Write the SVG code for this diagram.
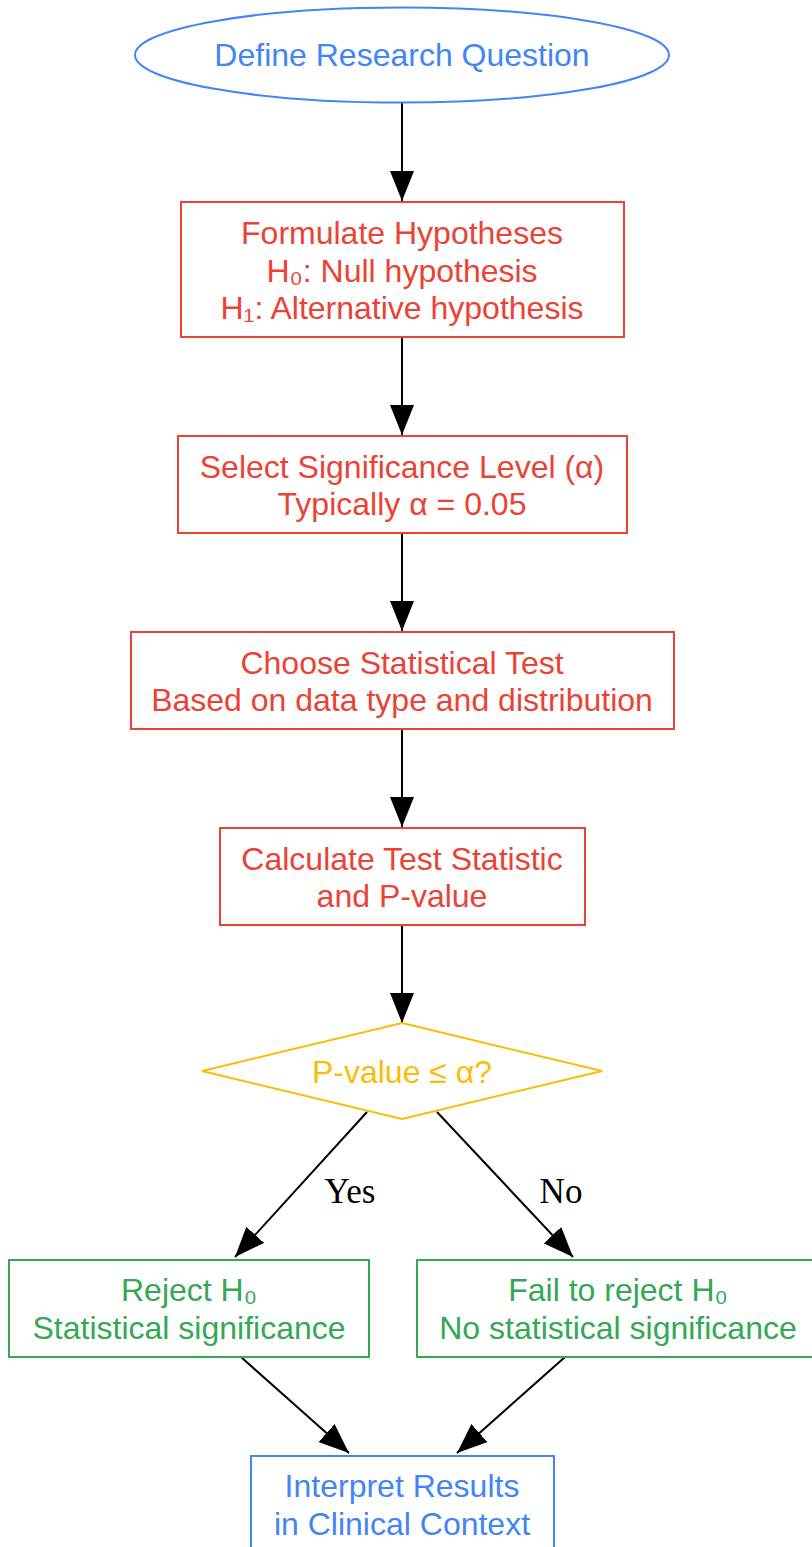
<svg xmlns="http://www.w3.org/2000/svg" width="812" height="1547" viewBox="0 0 812 1547">
<style>
text{font-family:"Liberation Sans",Arial,sans-serif;font-size:32px;text-anchor:middle}
.blue{fill:none;stroke:#4285F4;stroke-width:2}
.red{fill:none;stroke:#EA4335;stroke-width:2}
.yel{fill:none;stroke:#FBBC05;stroke-width:2}
.grn{fill:none;stroke:#34A853;stroke-width:2}
.tb{fill:#4285F4}.tr{fill:#EA4335}.ty{fill:#FBBC05}.tg{fill:#34A853}
.edge{stroke:#000;stroke-width:2;fill:none;marker-end:url(#arr)}
.lbl{font-family:"Liberation Serif","Times New Roman",serif;font-size:35px;fill:#000}
</style>
<defs>
<marker id="arr" markerUnits="userSpaceOnUse" markerWidth="30" markerHeight="24" refX="30" refY="12" orient="auto" viewBox="0 0 30 24">
<path d="M0,0 L30,12 L0,24 z" fill="#000"/>
</marker>
</defs>
<rect width="812" height="1547" fill="#fff"/>
<g id="edges">
<line class="edge" x1="402" y1="102" x2="402" y2="201"/>
<line class="edge" x1="402" y1="337" x2="402" y2="435"/>
<line class="edge" x1="402" y1="533" x2="402" y2="631"/>
<line class="edge" x1="402" y1="729" x2="402" y2="827"/>
<line class="edge" x1="402" y1="925" x2="402" y2="1023"/>
<line class="edge" x1="367" y1="1112" x2="235" y2="1257"/>
<line class="edge" x1="437" y1="1112" x2="573" y2="1257"/>
<line class="edge" x1="241" y1="1357" x2="349" y2="1453"/>
<line class="edge" x1="565" y1="1357" x2="457" y2="1453"/>
<text class="lbl" x="350" y="1203">Yes</text>
<text class="lbl" x="561" y="1203">No</text>
</g>
<g id="define">
<ellipse class="blue" cx="402" cy="55" rx="267" ry="47.5"/>
<text class="tb" x="402" y="66">Define Research Question</text>
</g>
<g id="hypotheses">
<rect class="red" x="181" y="202" width="443" height="135"/>
<text class="tr" x="402" y="244">Formulate Hypotheses</text>
<text class="tr" x="402" y="282">H₀: Null hypothesis</text>
<text class="tr" x="402" y="319">H₁: Alternative hypothesis</text>
</g>
<g id="alpha">
<rect class="red" x="178" y="436" width="449" height="97"/>
<text class="tr" x="402" y="478">Select Significance Level (α)</text>
<text class="tr" x="402" y="515">Typically α = 0.05</text>
</g>
<g id="test">
<rect class="red" x="131" y="632" width="543" height="97"/>
<text class="tr" x="402" y="674">Choose Statistical Test</text>
<text class="tr" x="402" y="711">Based on data type and distribution</text>
</g>
<g id="calc">
<rect class="red" x="220" y="828" width="365" height="97"/>
<text class="tr" x="402" y="870">Calculate Test Statistic</text>
<text class="tr" x="402" y="907">and P-value</text>
</g>
<g id="decision">
<polygon class="yel" points="402,1023 602,1071 402,1119 202,1071"/>
<text class="ty" x="402" y="1083">P-value ≤ α?</text>
</g>
<g id="reject">
<rect class="grn" x="9" y="1260" width="360" height="97"/>
<text class="tg" x="189" y="1301">Reject H₀</text>
<text class="tg" x="189" y="1339">Statistical significance</text>
</g>
<g id="failreject">
<rect class="grn" x="417" y="1260" width="403" height="97"/>
<text class="tg" x="618" y="1301">Fail to reject H₀</text>
<text class="tg" x="618" y="1339">No statistical significance</text>
</g>
<g id="interpret">
<rect class="blue" x="251" y="1456" width="303" height="100"/>
<text class="tb" x="402" y="1497">Interpret Results</text>
<text class="tb" x="402" y="1535">in Clinical Context</text>
</g>
</svg>
